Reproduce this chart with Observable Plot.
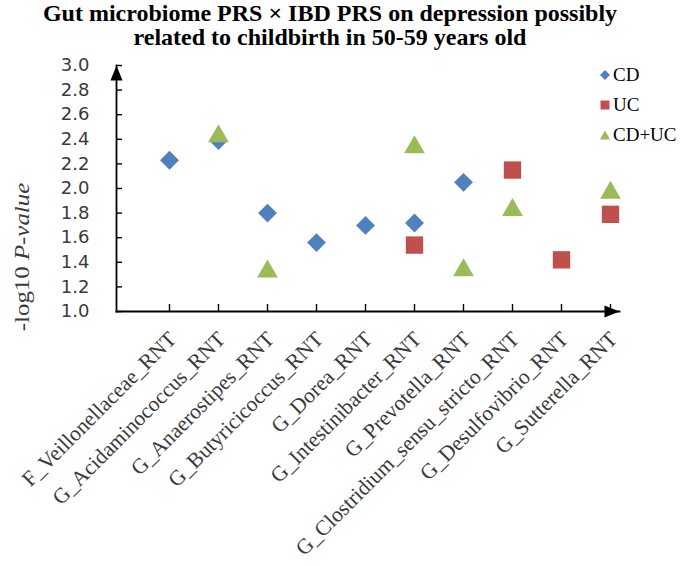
<!DOCTYPE html>
<html>
<head>
<meta charset="utf-8">
<script src="https://cdn.jsdelivr.net/npm/d3@7"></script>
<script src="https://cdn.jsdelivr.net/npm/@observablehq/plot@0.6"></script>
<style>
  html, body { margin: 0; padding: 0; background: #fff; }
  #wrap { position: relative; width: 689px; height: 566px; overflow: hidden; }
  #title { width: 660px; height: 56px; box-sizing: border-box; padding-top: 1px; text-align: center;
           font-family: "Liberation Serif", "Times New Roman", serif; font-weight: bold; font-size: 24px; line-height: 24px; color: #000; }
  #legend { position: absolute; left: 598px; top: 60px; font-family: "Liberation Serif", serif; font-size: 19px; color: #000; }
  #legend .row { display: flex; align-items: center; height: 30px; }
  #legend svg { width: 14px; height: 14px; margin-right: 1px; }
</style>
</head>
<body>
<div id="wrap">
  <div id="title">Gut microbiome PRS × IBD PRS on depression possibly<br>related to childbirth in 50-59 years old</div>
  <div id="chart"></div>
  <div id="legend"></div>
</div>
<script>
const categories = [
  "F_Veillonellaceae_RNT",
  "G_Acidaminococcus_RNT",
  "G_Anaerostipes_RNT",
  "G_Butyricicoccus_RNT",
  "G_Dorea_RNT",
  "G_Intestinibacter_RNT",
  "G_Prevotella_RNT",
  "G_Clostridium_sensu_stricto_RNT",
  "G_Desulfovibrio_RNT",
  "G_Sutterella_RNT"
];
const seriesNames = ["CD", "UC", "CD+UC"];
const cdValues   = [2.23, 2.39, 1.80, 1.56, 1.70, 1.72, 2.05, null, null, null];
const ucValues   = [null, null, null, null, null, 1.54, null, 2.15, 1.42, 1.79];
const cdUcValues = [null, 2.45, 1.35, null, null, 2.36, 1.36, 1.85, null, 1.99];
const yTicks = [1.0, 1.2, 1.4, 1.6, 1.8, 2.0, 2.2, 2.4, 2.6, 2.8, 3.0];
const yLabelPlain = "-log10 ";
const yLabelItalic = "P-value";

const seriesColors = ["#4F81BD", "#C0504D", "#9BBB59"];
const seriesSymbols = ["diamond2", "square", "triangle"];

const seriesValues = [cdValues, ucValues, cdUcValues];
const rows = [];
seriesNames.forEach((s, k) => {
  seriesValues[k].forEach((v, i) => {
    if (v != null) rows.push({series: s, category: categories[i], value: v});
  });
});

// arrowhead symbol, tip at origin pointing up
const arrowHead = {
  draw(context, size) {
    const h = Math.sqrt(size);
    context.moveTo(0, 0);
    context.lineTo(h * 0.4, h);
    context.lineTo(-h * 0.4, h);
    context.closePath();
  }
};

const axisColor = "#000";
const labelColor = "#3a3a3a";

const plot = Plot.plot({
  width: 689,
  height: 510,
  marginLeft: 116,
  marginRight: 70,
  marginTop: 9,
  marginBottom: 255,
  style: {background: "#fff", overflow: "visible"},
  x: {type: "point", domain: categories, padding: 0, insetLeft: 49, insetRight: 6},
  y: {domain: [1, 3], label: null},
  marks: [
    Plot.axisY({ticks: yTicks, tickSize: 0, tickPadding: 27, tickFormat: d3.format(".1f"),
                fontSize: 18, fontFamily: "DejaVu Sans", fill: labelColor, label: null}),
    Plot.axisY({ticks: yTicks, tickSize: 6, dx: 6, tickFormat: () => "", stroke: axisColor, strokeWidth: 1.4, label: null}),
    Plot.axisX({tickSize: 7, dy: -7, tickFormat: () => "", stroke: axisColor, strokeWidth: 1.4, label: null}),
    Plot.frame({anchor: "left", stroke: axisColor, strokeWidth: 1.8}),
    Plot.frame({anchor: "bottom", stroke: axisColor, strokeWidth: 1.8}),
    Plot.dot([0], {frameAnchor: "top-left", symbol: arrowHead, r: 8.5, fill: axisColor}),
    Plot.dot([0], {frameAnchor: "bottom-right", symbol: arrowHead, r: 8.5, rotate: 90, fill: axisColor}),
    Plot.text(categories, {x: d => d, text: d => d, frameAnchor: "bottom", rotate: -45, textAnchor: "end",
                           lineAnchor: "bottom", dx: 8, dy: 29, fontSize: 21.5, fontFamily: "Liberation Serif", fill: labelColor}),
    Plot.dot(rows.filter(d => d.series === "CD"), {x: "category", y: "value", symbol: "diamond2", r: 8.5, fill: seriesColors[0]}),
    Plot.dot(rows.filter(d => d.series === "UC"), {x: "category", y: "value", symbol: "square", r: 9.8, fill: seriesColors[1]}),
    Plot.dot(rows.filter(d => d.series === "CD+UC"), {x: "category", y: "value", symbol: "triangle", r: 7.7, dy: 3, fill: seriesColors[2]})
  ]
});

document.getElementById("chart").appendChild(plot);

// y-axis title with italic part
const svg = d3.select(plot);
const yt = svg.append("text")
  .attr("transform", "translate(29,201) rotate(-90) scale(1.13,1)")
  .attr("text-anchor", "middle")
  .attr("font-family", "Liberation Serif, serif")
  .attr("font-size", 22)
  .attr("fill", labelColor);
yt.append("tspan").text(yLabelPlain);
yt.append("tspan").attr("font-style", "italic").text(yLabelItalic);

// legend
const legend = d3.select("#legend");
const symPaths = {
  "diamond2": "M7,2 L12,7 L7,12 L2,7 Z",
  "square": "M2.5,2.5 H11.5 V11.5 H2.5 Z",
  "triangle": "M7,2.5 L12,11.5 L2,11.5 Z"
};
seriesNames.forEach((s, k) => {
  const row = legend.append("div").attr("class", "row");
  row.append("svg").attr("viewBox", "0 0 14 14")
    .append("path").attr("d", symPaths[seriesSymbols[k]]).attr("fill", seriesColors[k]);
  row.append("span").text(s);
});
</script>
</body>
</html>
